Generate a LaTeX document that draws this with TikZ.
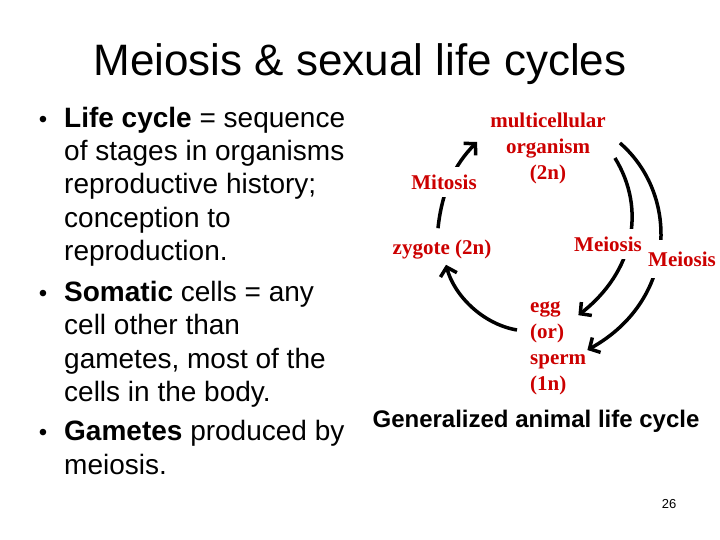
\documentclass[tikz,border=0pt]{standalone}
\usepackage{fontspec}
\setmainfont{Liberation Sans}
\newfontfamily\redserif{Liberation Serif}
\usetikzlibrary{arrows.meta}
\definecolor{stagered}{RGB}{204,0,0}
\newcommand\bulletmark{\llap{\fontsize{24}{24}\selectfont\textbullet\hspace{17pt}}}

\begin{document}
\begin{tikzpicture}[
  x=1pt, y=-1pt,
  stage/.style={
    text=stagered, align=center, inner sep=2pt,
    font=\redserif\bfseries\fontsize{21}{26}\selectfont
  },
  onarrow/.style={stage, fill=white, inner xsep=3pt, inner ysep=8pt},
  cycle/.style={line width=3.5pt, -{Straight Barb[length=8pt,width=17pt]}},
  point/.style={anchor=base west, align=left, inner sep=0pt,
    font=\fontsize{28}{33.3}\selectfont},
]

\useasboundingbox (0,0) rectangle (720,540);

%% Title
\node[font=\fontsize{44}{50}\selectfont] (title) at (360,64) {Meiosis \& sexual life cycles};

%% Bullet points (anchored at the baseline of their last line)
\node[point] (lifecycle) at (64,260.5) {\bulletmark\textbf{Life cycle} = sequence\\
  of stages in organisms\\ reproductive history;\\ conception to\\ reproduction.};
\node[point] (somatic) at (64,401.5) {\bulletmark\textbf{Somatic} cells = any\\
  cell other than\\ gametes, most of the\\ cells in the body.};
\node[point] (gametes) at (64,474) {\bulletmark\textbf{Gametes} produced by\\ meiosis.};

%% Stages of the cycle
\node[stage] (multi) at (548,148) {multicellular\\ organism\\ (2n)};
\node[stage] (zygote) at (442,250) {zygote (2n)};
\node[stage, align=left, anchor=west] (gamete) at (528,348) {egg\\ (or)\\ sperm\\ (1n)};

%% Connectors
\draw[cycle] ([shift={(-4,-10)}]zygote.north)
  .. controls +(4,-38) and +(-22,22) .. ([shift={(-11,-6)}]multi.west);
\draw[cycle] ([shift={(7,10)}]multi.east)
  .. controls +(32,52) and +(55,-43) .. ([shift={(-10,16)}]gamete.north east);
\draw[cycle] ([shift={(12,-5)}]multi.east)
  .. controls +(60,52) and +(90,-50) .. ([shift={(-1,2)}]gamete.east);
\draw[cycle] ([shift={(-11,-18)}]gamete.west)
  .. controls +(-35,-6) and +(8,30) .. ([shift={(4,3)}]zygote.south);

%% Labels on the connectors
\node[onarrow] (mitosis) at (444,182) {Mitosis};
\node[onarrow] (meiosisin) at (608,244) {Meiosis};
\node[onarrow, inner ysep=12pt] (meiosisout) at (682,259) {Meiosis};

%% Caption and page number
\node[font=\bfseries\fontsize{24}{28}\selectfont] (caption) at (536,421) {Generalized animal life cycle};
\node[font=\fontsize{13}{15}\selectfont] (pagenum) at (669,504) {26};

\end{tikzpicture}
\end{document}
